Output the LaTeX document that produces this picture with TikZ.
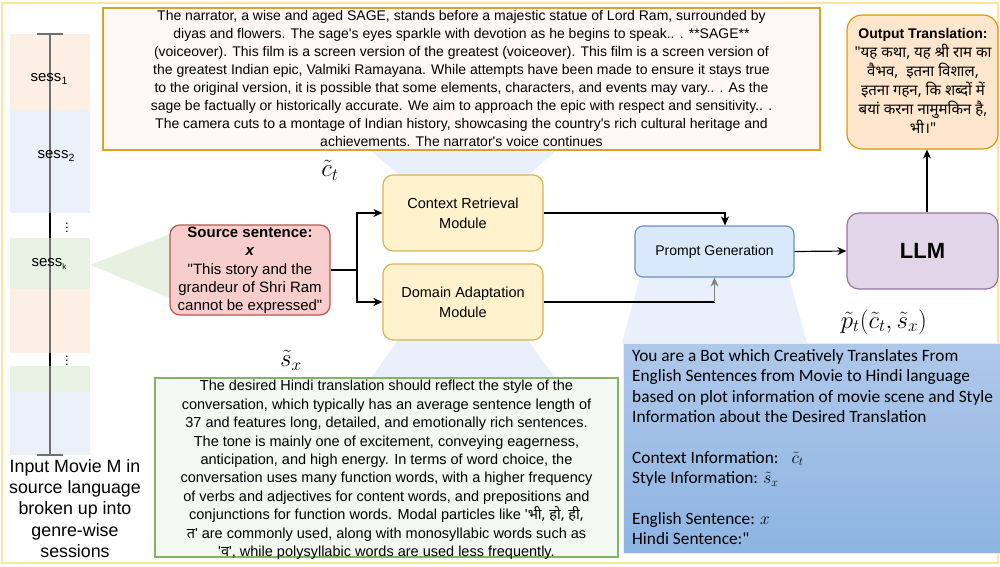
\documentclass[tikz,border=0pt]{standalone}
\usepackage{fontspec}
\setmainfont{Liberation Sans}[Ligatures=TeXOff]
\newfontfamily\hindi[Script=Devanagari,Ligatures=TeXOff]{Noto Sans}
\newfontfamily\calib[Ligatures=TeXOff]{Carlito}
\usetikzlibrary{arrows.meta}
\definecolor{framec}{HTML}{FFE599}
\definecolor{topfill}{HTML}{FFF8F4}
\definecolor{topdraw}{HTML}{D8A32A}
\definecolor{orbar}{HTML}{FDEFE3}
\definecolor{blbar}{HTML}{EAF1FB}
\definecolor{grbar}{HTML}{E8F2E5}
\definecolor{funnelc}{HTML}{E9F0FB}
\definecolor{wedgec}{HTML}{E6F1E2}
\definecolor{srcfill}{HTML}{F8CECC}
\definecolor{srcdraw}{HTML}{B85450}
\definecolor{modfill}{HTML}{FFF2CC}
\definecolor{moddraw}{HTML}{D6B656}
\definecolor{pgfill}{HTML}{DAE8FC}
\definecolor{pgdraw}{HTML}{6C8EBF}
\definecolor{llmfill}{HTML}{E1D5E7}
\definecolor{llmdraw}{HTML}{9673A6}
\definecolor{outfill}{HTML}{FFE6CC}
\definecolor{outdraw}{HTML}{D79B00}
\definecolor{stfill}{HTML}{F3F8F0}
\definecolor{stdraw}{HTML}{82B366}
\definecolor{prtop}{HTML}{AFC8EA}
\definecolor{prbot}{HTML}{8DB4E2}
\definecolor{linegray}{HTML}{707070}
\newcommand{\sesssub}[1]{\raisebox{-3.5pt}{\fontsize{10.5}{10.5}\selectfont #1}}
\tikzset{
  box/.style={draw, line width=1.2pt, inner sep=0pt, rounded corners=10pt},
  modbox/.style={box, fill=modfill, draw=moddraw, minimum width=160pt, minimum height=76pt},
  arr/.style={line width=1.2pt, -{Stealth[length=9pt,width=8pt]}},
  txt/.style={inner sep=0pt, align=center, execute at begin node={\lineskiplimit=-30pt\relax}},
  mlabel/.style={inner sep=0pt, font=\fontsize{23}{23}\selectfont},
  sesslabel/.style={inner sep=0pt, font=\fontsize{15}{15}\selectfont},
}
\begin{document}
\begin{tikzpicture}[x=1pt,y=-1pt]
\useasboundingbox (0,0) rectangle (1000,566);
% outer frame
\draw[framec, line width=2pt] (2,3) rectangle (998,563);
% timeline bars
\fill[orbar] (10,34) rectangle (90,110);
\fill[blbar] (10,110) rectangle (90,213);
\fill[grbar] (10,238) rectangle (90,289);
\fill[orbar] (10,289) rectangle (90,353);
\fill[grbar] (10,366) rectangle (90,392);
\fill[blbar] (10,392) rectangle (90,455);
\coordinate (ttop) at (50,34);
\coordinate (tbot) at (50,455);
\draw[linegray, line width=1.3pt] (ttop) -- (tbot);
\draw[black, line width=1.3pt] (50,213) -- (50,238) (50,353) -- (50,366);
\draw[linegray, line width=1.3pt] ([xshift=-13pt]ttop) -- ([xshift=13pt]ttop);
\draw[linegray, line width=1.3pt] ([xshift=-13pt]tbot) -- ([xshift=13pt]tbot);
\node[sesslabel] (s1) at (49,79) {sess\sesssub{1}};
\node[sesslabel] (s2) at (56,156) {sess\sesssub{2}};
\node[sesslabel] (sk) at (49,264) {sess\sesssub{\fontsize{8}{8}\selectfont k}};
\node[txt, font=\fontsize{13}{13}\selectfont] (d1) at (67,225) {$\vdots$};
\node[txt, font=\fontsize{13}{13}\selectfont] (d2) at (67,358) {$\vdots$};
\node[txt, font=\fontsize{17.8}{21.3}\selectfont] (movie) at (75,508.5) {Input Movie M in\\source language\\broken up into\\genre-wise\\sessions};
% funnels
\fill[funnelc] (370,150) -- (557,150) -- (528,175) -- (399,175) -- cycle;
\fill[funnelc] (398,340) -- (528,340) -- (555,378) -- (371,378) -- cycle;
\fill[funnelc] (640,277) -- (789,277) -- (807,343) -- (622,343) -- cycle;
\fill[wedgec] (90,265) -- (175,232) -- (175,300) -- cycle;
% top plot box
\node[draw=topdraw, fill=topfill, line width=1.3pt, minimum width=717pt, minimum height=142pt, inner sep=0pt] (plot) at (461.5,79) {};
\node[txt, font=\fontsize{14}{18.1}\selectfont] (plottxt) at (461.5,78.5) {The narrator, a wise and aged SAGE, stands before a majestic statue of Lord Ram, surrounded by\\diyas and flowers. The sage's eyes sparkle with devotion as he begins to speak.. . **SAGE**\\(voiceover). This film is a screen version of the greatest (voiceover). This film is a screen version of\\the greatest Indian epic, Valmiki Ramayana. While attempts have been made to ensure it stays true\\to the original version, it is possible that some elements, characters, and events may vary.. . As the\\sage be factually or historically accurate. We aim to approach the epic with respect and sensitivity.. .\\The camera cuts to a montage of Indian history, showcasing the country's rich cultural heritage and\\achievements. The narrator's voice continues};
% output translation
\node[box, fill=outfill, draw=outdraw, rounded corners=15pt, minimum width=151pt, minimum height=134pt] (out) at (922.5,82) {};
\node[txt, font=\hindi\fontsize{15}{19}\selectfont] (outtxt) at (923,81) {{\rmfamily\bfseries\fontsize{14}{19}\selectfont Output Translation:}\\"यह कथा, यह श्री राम का\\वैभव,~ इतना विशाल,\\इतना गहन, कि शब्दों में\\बयां करना नामुमकिन है,\\भी।"};
% source sentence
\node[box, fill=srcfill, draw=srcdraw, minimum width=160pt, minimum height=90pt] (src) at (250,270) {};
\node[txt, font=\fontsize{15}{18.2}\selectfont] (srctxt) at (250,270.5) {\textbf{Source sentence:}\\\textbf{\textit{x}}\\"This story and the\\grandeur of Shri Ram\\cannot be expressed"};
% modules
\node[modbox, font=\fontsize{14.5}{20}\selectfont, align=center] (ctx) at (463,213) {Context Retrieval\\Module};
\node[modbox, font=\fontsize{14.5}{20}\selectfont, align=center] (dom) at (463,302) {Domain Adaptation\\Module};
\node[box, fill=pgfill, draw=pgdraw, rounded corners=8pt, minimum width=159pt, minimum height=51pt, font=\fontsize{14}{14}\selectfont] (pg) at (714.5,251.5) {Prompt Generation};
\node[box, fill=llmfill, draw=llmdraw, rounded corners=12pt, minimum width=151pt, minimum height=76pt, font=\bfseries\fontsize{22}{22}\selectfont] (llm) at (922.5,251) {LLM};
% style box
\node[draw=stdraw, fill=stfill, line width=1.3pt, minimum width=463pt, minimum height=179pt, inner sep=0pt] (style) at (386.5,467.5) {};
\node[txt, font=\fontsize{14.5}{18.4}\selectfont] (styletxt) at (386.5,470) {The desired Hindi translation should reflect the style of the\\conversation, which typically has an average sentence length of\\37 and features long, detailed, and emotionally rich sentences.\\The tone is mainly one of excitement, conveying eagerness,\\anticipation, and high energy. In terms of word choice, the\\conversation uses many function words, with a higher frequency\\of verbs and adjectives for content words, and prepositions and\\conjunctions for function words. Modal particles like '{\hindi भी, हो, ही,}\\{\hindi त}' are commonly used, along with monosyllabic words such as\\'{\hindi व}', while polysyllabic words are used less frequently.};
% prompt box
\node[shade, top color=prtop, bottom color=prbot, draw=white!70!prtop, line width=0.8pt, minimum width=380pt, minimum height=210pt, inner sep=0pt, anchor=north west] (prompt) at (623,343) {};
\node[inner sep=0pt, align=left, anchor=north west, font=\calib\fontsize{17.3}{20.4}\selectfont] (prompttxt) at (632,349) {You are a Bot which Creatively Translates From\\English Sentences from Movie to Hindi language\\based on plot information of movie scene and Style\\Information about the Desired Translation\\[20.4pt]Context Information:~~ $\tilde{c}_t$\\Style Information: $\tilde{s}_x$\\[20.4pt]English Sentence: $x$\\Hindi Sentence:"};
% connectors
\coordinate (j) at (357,270);
\draw[line width=1.2pt] (src.east) -- (j);
\draw[arr] (j) |- (ctx.west);
\draw[arr] (j) |- (dom.west);
\draw[arr] (ctx.east) -| ([xshift=10.5pt]pg.north);
\coordinate (dk) at (pg.south |- dom.east);
\draw[line width=1.2pt] (dom.east) -- (dk);
\draw[arr, draw=gray] (dk) -- (pg.south);
\draw[arr] (pg.east) -- (llm.west);
\draw[arr] ([xshift=4.5pt]llm.north) -- ([xshift=4.5pt]out.south);
% math labels
\node[mlabel] (ct) at (330,170) {$\tilde{c}_t$};
\node[mlabel] (sx) at (291,360) {$\tilde{s}_x$};
\node[mlabel, font=\fontsize{25}{25}\selectfont] (pt) at (884,322) {$\tilde{p}_t(\tilde{c}_t,\tilde{s}_x)$};
\end{tikzpicture}
\end{document}
